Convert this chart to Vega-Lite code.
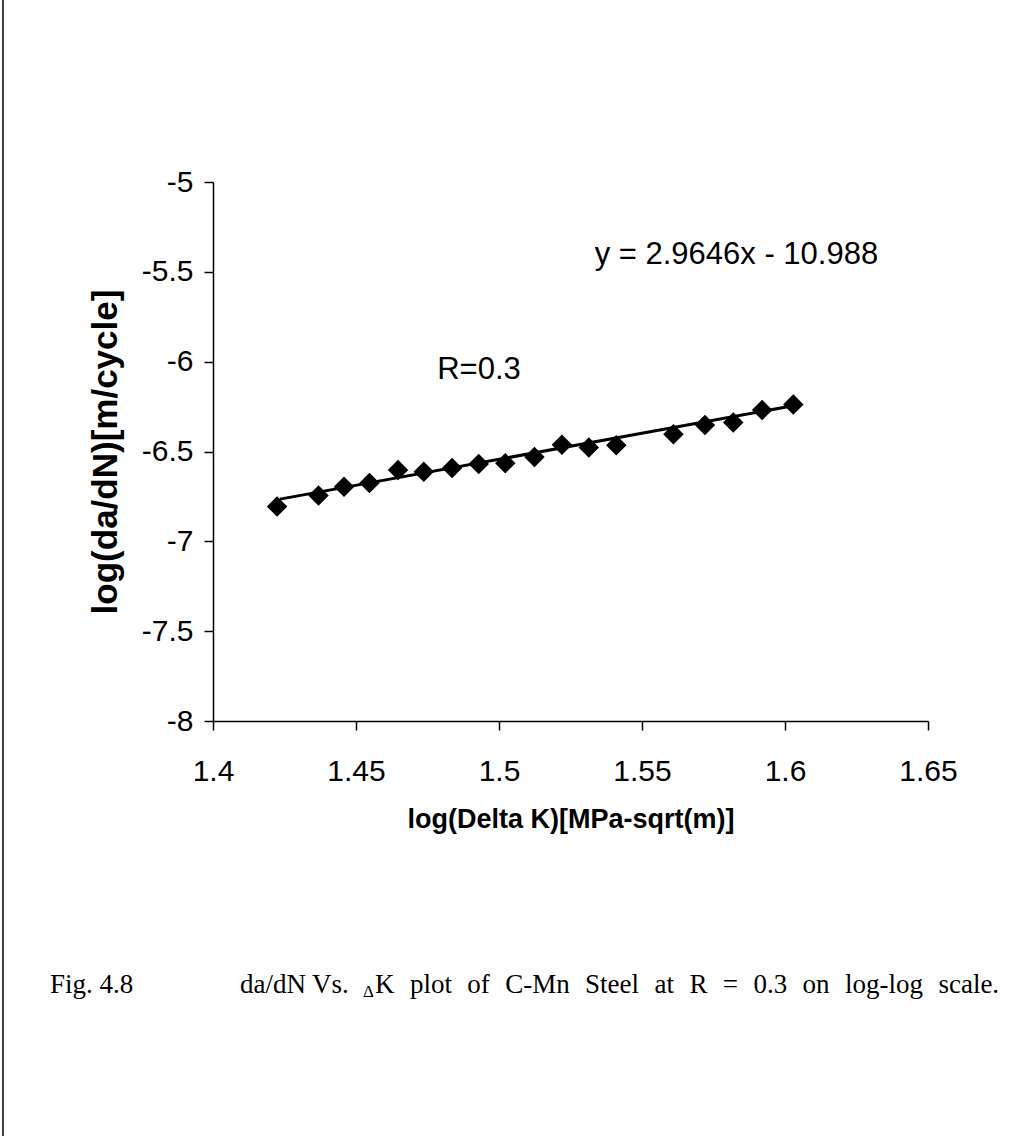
{
  "$schema": "https://vega.github.io/schema/vega-lite/v6.json",
  "autosize": "none",
  "width": 715,
  "height": 539,
  "padding": {"left": 213, "top": 182, "right": 92, "bottom": 415},
  "background": "white",
  "config": {
    "view": {"stroke": null},
    "axis": {
      "domainColor": "black", "domainWidth": 1.5, "tickColor": "black", "tickWidth": 1.5,
      "grid": false, "labelColor": "black", "titleColor": "black",
      "labelFont": "Liberation Sans", "titleFont": "Liberation Sans",
      "labelFontSize": 30, "titleFontWeight": "bold"
    }
  },
  "datasets": {
    "points": [
      {"logDK": 1.4224, "logdadN": -6.806},
      {"logDK": 1.4369, "logdadN": -6.745},
      {"logDK": 1.4458, "logdadN": -6.696},
      {"logDK": 1.4547, "logdadN": -6.675},
      {"logDK": 1.4647, "logdadN": -6.603},
      {"logDK": 1.4737, "logdadN": -6.613},
      {"logDK": 1.4836, "logdadN": -6.592},
      {"logDK": 1.4929, "logdadN": -6.570},
      {"logDK": 1.5022, "logdadN": -6.565},
      {"logDK": 1.5124, "logdadN": -6.530},
      {"logDK": 1.5220, "logdadN": -6.463},
      {"logDK": 1.5314, "logdadN": -6.478},
      {"logDK": 1.5410, "logdadN": -6.465},
      {"logDK": 1.5610, "logdadN": -6.404},
      {"logDK": 1.5720, "logdadN": -6.352},
      {"logDK": 1.5819, "logdadN": -6.339},
      {"logDK": 1.5920, "logdadN": -6.269},
      {"logDK": 1.6029, "logdadN": -6.238}
    ],
    "trend": [
      {"logDK": 1.4234, "logdadN": -6.765},
      {"logDK": 1.6029, "logdadN": -6.245}
    ],
    "caption": [
      {"x": 1.34301, "label": "Fig. 4.8"},
      {"x": 1.40944, "label": "da/dN"},
      {"x": 1.43462, "label": "Vs."},
      {"x": 1.45664, "label": "K"},
      {"x": 1.46885, "label": "plot"},
      {"x": 1.48892, "label": "of"},
      {"x": 1.50217, "label": "C-Mn"},
      {"x": 1.53010, "label": "Steel"},
      {"x": 1.55437, "label": "at"},
      {"x": 1.56657, "label": "R"},
      {"x": 1.57825, "label": "="},
      {"x": 1.58895, "label": "0.3"},
      {"x": 1.60615, "label": "on"},
      {"x": 1.62098, "label": "log-log"},
      {"x": 1.65364, "label": "scale."}
    ]
  },
  "layer": [
    {
      "data": {"name": "trend"},
      "mark": {"type": "line", "color": "black", "strokeWidth": 3},
      "encoding": {
        "x": {"field": "logDK", "type": "quantitative",
          "scale": {"domain": [1.4, 1.65], "nice": false, "zero": false},
          "axis": {"title": "log(Delta K)[MPa-sqrt(m)]", "titleFontSize": 27, "values": [1.4, 1.45, 1.5, 1.55, 1.6, 1.65],
            "labelExpr": "toString(datum.value)", "tickSize": 9, "labelPadding": 26, "titlePadding": 20,
            "labelFlush": false}},
        "y": {"field": "logdadN", "type": "quantitative",
          "scale": {"domain": [-8, -5], "nice": false, "zero": false},
          "axis": {"title": "log(da/dN)[m/cycle]", "titleFontSize": 35, "values": [-8, -7.5, -7, -6.5, -6, -5.5, -5],
            "labelExpr": "toString(datum.value)", "tickSize": 9, "labelPadding": 11, "titlePadding": 18,
            "labelFlush": false}}
      }
    },
    {
      "data": {"name": "points"},
      "mark": {"type": "point", "shape": "diamond", "filled": true, "color": "black", "size": 420, "opacity": 1},
      "encoding": {
        "x": {"field": "logDK", "type": "quantitative"},
        "y": {"field": "logdadN", "type": "quantitative"}
      }
    },
    {
      "data": {"values": [{"x": 1.583, "y": -5.408, "label": "y = 2.9646x - 10.988"}, {"x": 1.493, "y": -6.044, "label": "R=0.3"}]},
      "mark": {"type": "text", "font": "Liberation Sans", "fontSize": 31, "color": "black", "align": "center", "baseline": "middle"},
      "encoding": {
        "x": {"field": "x", "type": "quantitative"},
        "y": {"field": "y", "type": "quantitative"},
        "text": {"field": "label"}
      }
    },
    {
      "data": {"name": "caption"},
      "mark": {"type": "text", "font": "Liberation Serif", "fontSize": 27, "color": "black", "align": "left", "baseline": "alphabetic", "y": {"expr": "scale('y', -9.514)"}},
      "encoding": {
        "x": {"field": "x", "type": "quantitative"},
        "text": {"field": "label"}
      }
    },
    {
      "data": {"values": [{"x": 1.45245, "y": -9.536, "label": "Δ"}]},
      "mark": {"type": "text", "font": "Liberation Serif", "fontSize": 17, "color": "black", "align": "left", "baseline": "alphabetic"},
      "encoding": {
        "x": {"field": "x", "type": "quantitative"},
        "y": {"field": "y", "type": "quantitative"},
        "text": {"field": "label"}
      }
    },
    {
      "data": {"values": [{"x": 1.32657, "y": -3.987, "y2": -10.31}]},
      "mark": {"type": "rule", "color": "black", "strokeWidth": 1.5},
      "encoding": {
        "x": {"field": "x", "type": "quantitative"},
        "y": {"field": "y", "type": "quantitative"},
        "y2": {"field": "y2"}
      }
    }
  ]
}
